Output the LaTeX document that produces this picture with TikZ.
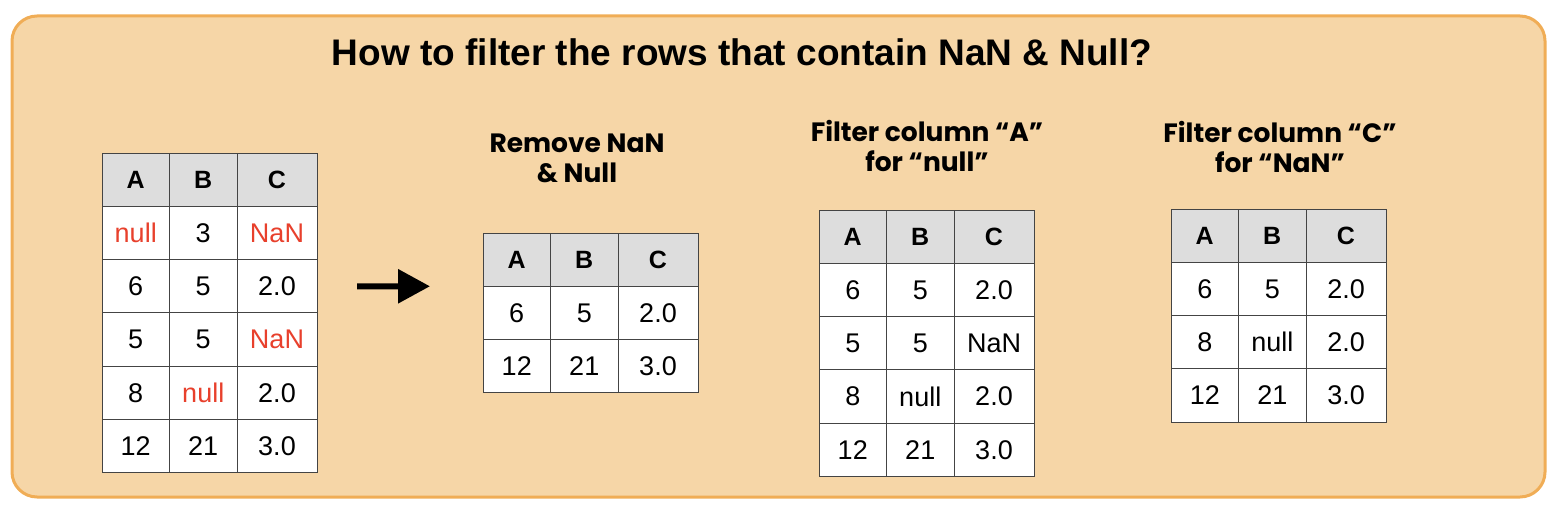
\documentclass[tikz,border=0pt]{standalone}
\usepackage{fontspec}
\setmainfont{Liberation Sans}
\newfontfamily\handfont{Poppins}
\usetikzlibrary{arrows.meta}

\definecolor{framefill}{HTML}{F6D6A7}
\definecolor{frameline}{HTML}{F0AD56}
\definecolor{headfill}{HTML}{DDDDDD}
\definecolor{gridline}{HTML}{444444}
\definecolor{missred}{HTML}{E8402C}

\newcommand{\miss}[1]{\textcolor{missred}{#1}}

\tikzset{
  frame/.style={draw=frameline, fill=framefill, line width=3pt, rounded corners=25pt},
  cell/.style={draw=gridline, fill=white, line width=1pt, rectangle, inner sep=0pt, outer sep=0pt,
    minimum height=53.3pt, anchor=north west, font=\fontsize{27}{27}\selectfont},
  headcell/.style={cell, fill=headfill, font=\fontsize{25}{25}\selectfont\bfseries},
  narrow/.style={minimum width=67.5pt},
  wide/.style={minimum width=80pt},
  caption/.style={align=center, font=\handfont\bfseries\fontsize{26.5}{30}\selectfont},
  bigarrow/.style={-{Triangle[length=32pt, width=33pt]}, line width=6pt, shorten <=40pt, shorten >=53pt},
}

\begin{document}
\begin{tikzpicture}[x=1pt, y=-1pt]
  \useasboundingbox (0,0) rectangle (1562,508);
  \draw[frame] (12,16) rectangle (1545,497);

  \node (title) at (742,52) {\fontsize{37}{37}\selectfont\bfseries How to filter the rows that contain NaN \& Null?};

  % raw table
  \node[headcell, narrow] (raw-0-1) at (102,153) {A};
  \node[headcell, narrow] (raw-0-2) at (raw-0-1.north east) {B};
  \node[headcell, wide] (raw-0-3) at (raw-0-2.north east) {C};
  \foreach \a/\b/\c [count=\r] in {{\miss{null}}/3/{\miss{NaN}}, 6/5/2.0, 5/5/{\miss{NaN}}, 8/{\miss{null}}/2.0, 12/21/3.0} {
    \node[cell, narrow] (raw-\r-1) at (102,{153+53.3*\r}) {\a};
    \node[cell, narrow] (raw-\r-2) at (raw-\r-1.north east) {\b};
    \node[cell, wide] (raw-\r-3) at (raw-\r-2.north east) {\c};
  }

  % dropna table
  \node[caption] (capDrop) at (577,158) {Remove NaN\\\& Null};
  \node[headcell, narrow] (drop-0-1) at (483,233) {A};
  \node[headcell, narrow] (drop-0-2) at (drop-0-1.north east) {B};
  \node[headcell, wide] (drop-0-3) at (drop-0-2.north east) {C};
  \foreach \a/\b/\c [count=\r] in {6/5/2.0, 12/21/3.0} {
    \node[cell, narrow] (drop-\r-1) at (483,{233+53.3*\r}) {\a};
    \node[cell, narrow] (drop-\r-2) at (drop-\r-1.north east) {\b};
    \node[cell, wide] (drop-\r-3) at (drop-\r-2.north east) {\c};
  }

  % filter on column A
  \node[caption] (capA) at (927,146) {Filter column “A”\\for “null”};
  \node[headcell, narrow] (filtA-0-1) at (819,210) {A};
  \node[headcell, narrow] (filtA-0-2) at (filtA-0-1.north east) {B};
  \node[headcell, wide] (filtA-0-3) at (filtA-0-2.north east) {C};
  \foreach \a/\b/\c [count=\r] in {6/5/2.0, 5/5/NaN, 8/null/2.0, 12/21/3.0} {
    \node[cell, narrow] (filtA-\r-1) at (819,{210+53.3*\r}) {\a};
    \node[cell, narrow] (filtA-\r-2) at (filtA-\r-1.north east) {\b};
    \node[cell, wide] (filtA-\r-3) at (filtA-\r-2.north east) {\c};
  }

  % filter on column C
  \node[caption] (capC) at (1280,147) {Filter column “C”\\for “NaN”};
  \node[headcell, narrow] (filtC-0-1) at (1171,209) {A};
  \node[headcell, narrow] (filtC-0-2) at (filtC-0-1.north east) {B};
  \node[headcell, wide] (filtC-0-3) at (filtC-0-2.north east) {C};
  \foreach \a/\b/\c [count=\r] in {6/5/2.0, 8/null/2.0, 12/21/3.0} {
    \node[cell, narrow] (filtC-\r-1) at (1171,{209+53.3*\r}) {\a};
    \node[cell, narrow] (filtC-\r-2) at (filtC-\r-1.north east) {\b};
    \node[cell, wide] (filtC-\r-3) at (filtC-\r-2.north east) {\c};
  }

  % Arrow
  \draw[bigarrow] (raw-2-3.east) -- (drop-0-1.south west);

\end{tikzpicture}
\end{document}
